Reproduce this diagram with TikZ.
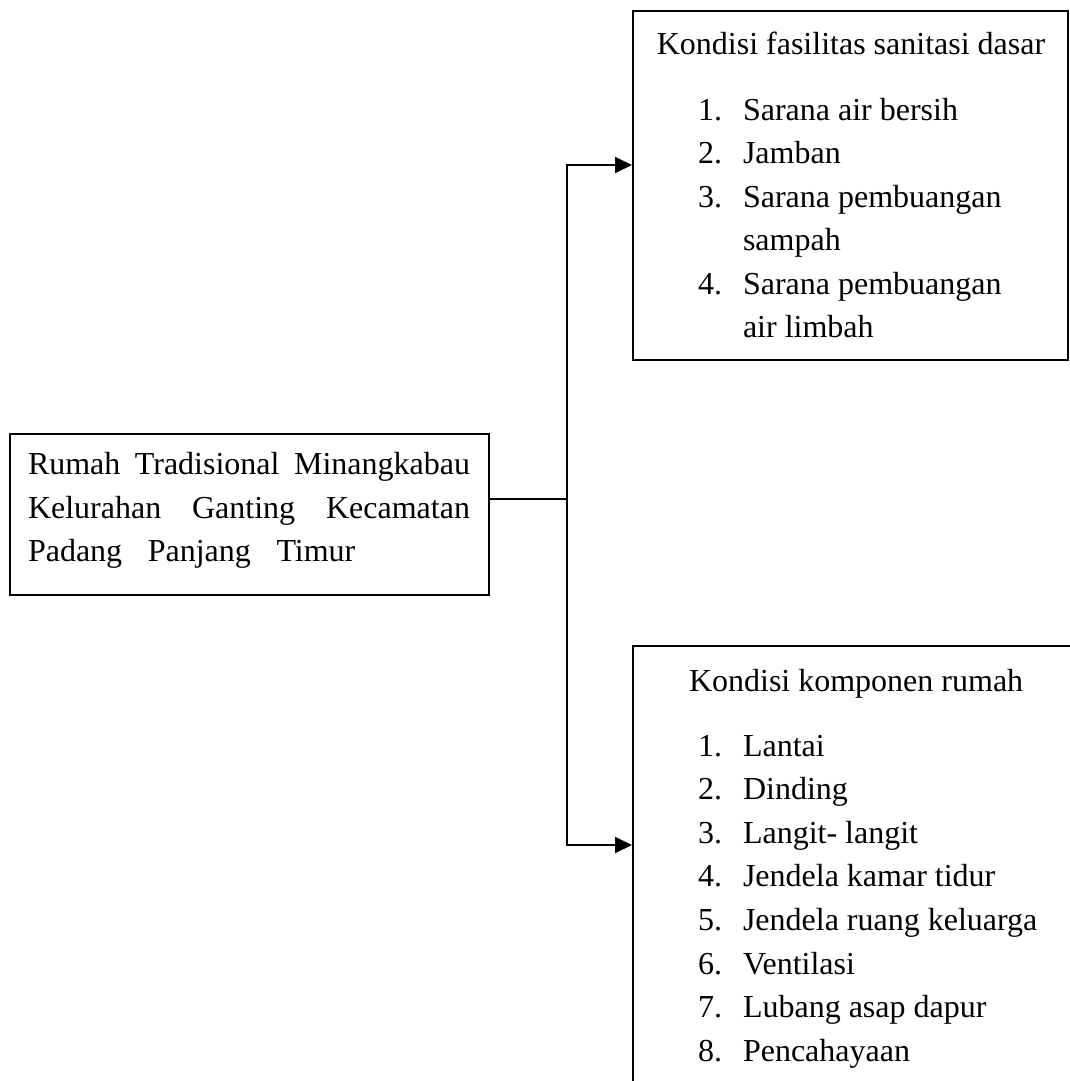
\documentclass[tikz,border=0pt]{standalone}
\usepackage{fontspec}
\setmainfont{Liberation Serif}
\usetikzlibrary{arrows.meta}
\begin{document}
\begin{tikzpicture}[x=1pt,y=-1pt,
  boxline/.style={draw=black,line width=1.8pt},
  txt/.style={anchor=base west,inner sep=0pt,outer sep=0pt,font=\fontsize{32}{43.6}\selectfont},
  conn/.style={draw=black,line width=1.8pt},
  arr/.style={conn,-{Triangle[length=17pt,width=16pt]}}]
\useasboundingbox (0,0) rectangle (1070,1081);
\clip (0,0) rectangle (1070,1081);
\fill[white] (0,0) rectangle (1070,1081);
% boxes
\node[boxline,rectangle,inner sep=0pt,minimum width=479pt,minimum height=161pt,anchor=north west] (main) at (9,433) {};
\node[boxline,rectangle,inner sep=0pt,minimum width=435pt,minimum height=349pt,anchor=north west] (sani) at (632,10) {};
\node[boxline,rectangle,inner sep=0pt,minimum width=460pt,minimum height=460pt,anchor=north west] (komp) at (632,645) {};
% main text
\node[txt] (m1) at (28,474) {\makebox[442pt][s]{Rumah Tradisional Minangkabau}};
\node[txt] (m2) at (28,518) {\makebox[442pt][s]{Kelurahan Ganting Kecamatan}};
\node[txt] (m3) at (28,561) {Padang\hspace{0.8em}Panjang\hspace{0.8em}Timur};
% sanitasi
\node[txt,anchor=base] (sh) at (851,55) {Kondisi fasilitas sanitasi dasar};
\node[txt] (sn1) at (698,120) {1.};
\node[txt] (st1) at (743,120) {Sarana air bersih};
\node[txt] (sn2) at (698,163) {2.};
\node[txt] (st2) at (743,163) {Jamban};
\node[txt] (sn3) at (698,207) {3.};
\node[txt] (st3) at (743,207) {Sarana pembuangan};
\node[txt] (st3b) at (743,250) {sampah};
\node[txt] (sn4) at (698,294) {4.};
\node[txt] (st4) at (743,294) {Sarana pembuangan};
\node[txt] (st4b) at (743,337) {air limbah};
% komponen
\node[txt] (kh) at (689,691) {Kondisi komponen rumah};
\foreach \n/\t [count=\i from 0] in {1/Lantai,2/Dinding,3/Langit- langit,4/Jendela kamar tidur,5/Jendela ruang keluarga,6/Ventilasi,7/Lubang asap dapur,8/Pencahayaan}{
  \node[txt] (kn\n) at (698,756+43.6*\i) {\n.};
  \node[txt] (kt\n) at (743,756+43.6*\i) {\t};
}
% connectors
\coordinate (jmid) at (567,499);
\coordinate (jtop) at (567,165);
\coordinate (jbot) at (567,845);
\draw[conn] (main.east |- jmid) -- (jmid);
\draw[conn,line cap=rect] (jtop) -- (jbot);
\draw[arr] (jtop) -- (sani.west |- jtop);
\draw[arr] (jbot) -- (komp.west |- jbot);
\end{tikzpicture}
\end{document}
